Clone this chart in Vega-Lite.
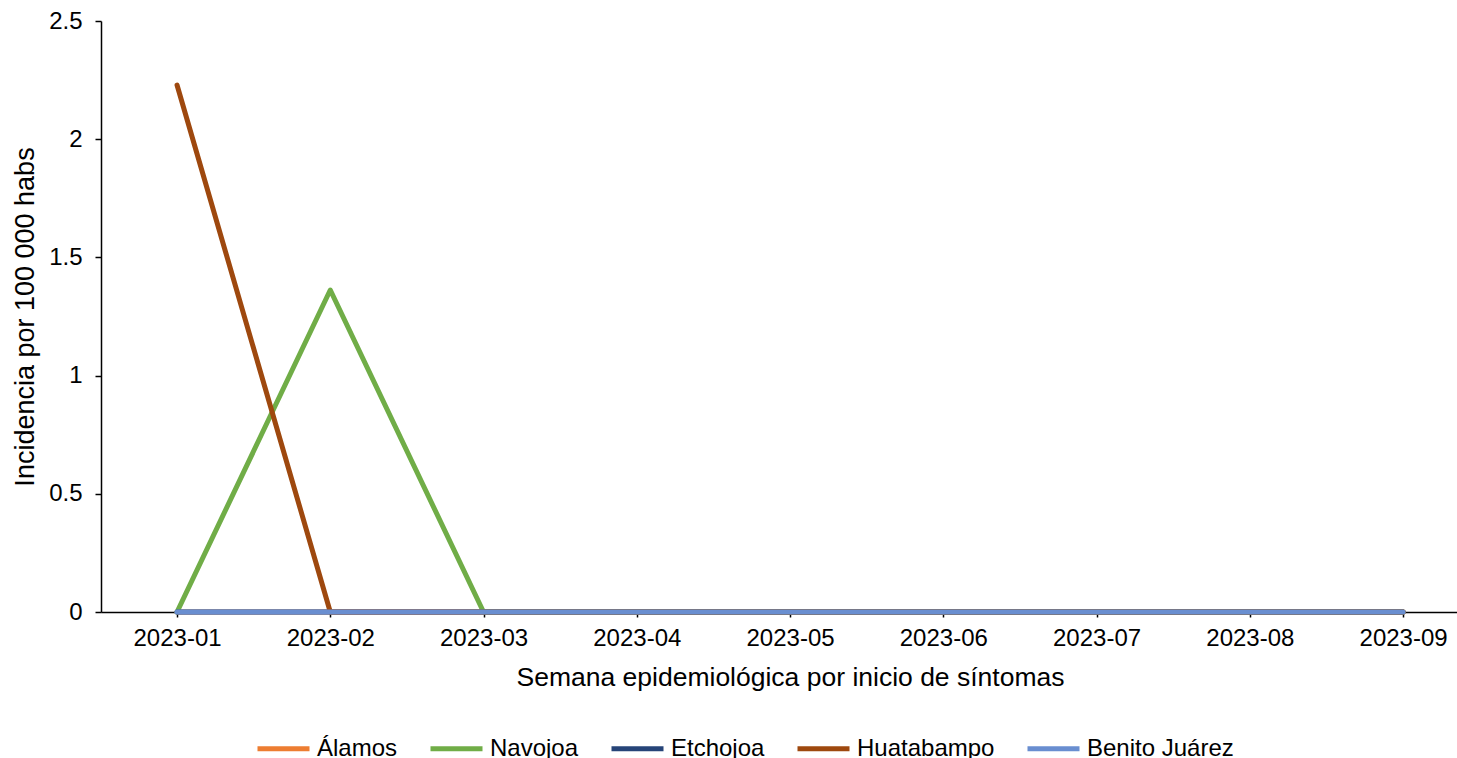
{
  "$schema": "https://vega.github.io/schema/vega-lite/v6.json",
  "width": 1356,
  "height": 591,
  "autosize": {"type": "none"},
  "padding": {"left": 101, "top": 21, "right": 0, "bottom": 146},
  "background": "white",
  "config": {
    "view": {"stroke": null},
    "font": "Liberation Sans",
    "axis": {"grid": false, "domainColor": "#000000", "tickColor": "#000000", "labelColor": "#000000", "titleColor": "#000000", "domainWidth": 1.5, "tickWidth": 1.5, "labelFont": "Liberation Sans", "titleFont": "Liberation Sans", "titleFontWeight": "normal"}
  },
  "data": {
    "values": [
      {"semana": "2023-01", "municipio": "Álamos", "incidencia": 0},
      {"semana": "2023-02", "municipio": "Álamos", "incidencia": 0},
      {"semana": "2023-03", "municipio": "Álamos", "incidencia": 0},
      {"semana": "2023-04", "municipio": "Álamos", "incidencia": 0},
      {"semana": "2023-05", "municipio": "Álamos", "incidencia": 0},
      {"semana": "2023-06", "municipio": "Álamos", "incidencia": 0},
      {"semana": "2023-07", "municipio": "Álamos", "incidencia": 0},
      {"semana": "2023-08", "municipio": "Álamos", "incidencia": 0},
      {"semana": "2023-09", "municipio": "Álamos", "incidencia": 0},
      {"semana": "2023-01", "municipio": "Navojoa", "incidencia": 0},
      {"semana": "2023-02", "municipio": "Navojoa", "incidencia": 1.362},
      {"semana": "2023-03", "municipio": "Navojoa", "incidencia": 0},
      {"semana": "2023-04", "municipio": "Navojoa", "incidencia": 0},
      {"semana": "2023-05", "municipio": "Navojoa", "incidencia": 0},
      {"semana": "2023-06", "municipio": "Navojoa", "incidencia": 0},
      {"semana": "2023-07", "municipio": "Navojoa", "incidencia": 0},
      {"semana": "2023-08", "municipio": "Navojoa", "incidencia": 0},
      {"semana": "2023-09", "municipio": "Navojoa", "incidencia": 0},
      {"semana": "2023-01", "municipio": "Etchojoa", "incidencia": 0},
      {"semana": "2023-02", "municipio": "Etchojoa", "incidencia": 0},
      {"semana": "2023-03", "municipio": "Etchojoa", "incidencia": 0},
      {"semana": "2023-04", "municipio": "Etchojoa", "incidencia": 0},
      {"semana": "2023-05", "municipio": "Etchojoa", "incidencia": 0},
      {"semana": "2023-06", "municipio": "Etchojoa", "incidencia": 0},
      {"semana": "2023-07", "municipio": "Etchojoa", "incidencia": 0},
      {"semana": "2023-08", "municipio": "Etchojoa", "incidencia": 0},
      {"semana": "2023-09", "municipio": "Etchojoa", "incidencia": 0},
      {"semana": "2023-01", "municipio": "Huatabampo", "incidencia": 2.229},
      {"semana": "2023-02", "municipio": "Huatabampo", "incidencia": 0},
      {"semana": "2023-03", "municipio": "Huatabampo", "incidencia": 0},
      {"semana": "2023-04", "municipio": "Huatabampo", "incidencia": 0},
      {"semana": "2023-05", "municipio": "Huatabampo", "incidencia": 0},
      {"semana": "2023-06", "municipio": "Huatabampo", "incidencia": 0},
      {"semana": "2023-07", "municipio": "Huatabampo", "incidencia": 0},
      {"semana": "2023-08", "municipio": "Huatabampo", "incidencia": 0},
      {"semana": "2023-09", "municipio": "Huatabampo", "incidencia": 0},
      {"semana": "2023-01", "municipio": "Benito Juárez", "incidencia": 0},
      {"semana": "2023-02", "municipio": "Benito Juárez", "incidencia": 0},
      {"semana": "2023-03", "municipio": "Benito Juárez", "incidencia": 0},
      {"semana": "2023-04", "municipio": "Benito Juárez", "incidencia": 0},
      {"semana": "2023-05", "municipio": "Benito Juárez", "incidencia": 0},
      {"semana": "2023-06", "municipio": "Benito Juárez", "incidencia": 0},
      {"semana": "2023-07", "municipio": "Benito Juárez", "incidencia": 0},
      {"semana": "2023-08", "municipio": "Benito Juárez", "incidencia": 0},
      {"semana": "2023-09", "municipio": "Benito Juárez", "incidencia": 0}
    ]
  },
  "mark": {"type": "line", "strokeWidth": 5, "strokeCap": "round", "strokeJoin": "round"},
  "encoding": {
    "x": {
      "field": "semana",
      "type": "ordinal",
      "sort": null,
      "scale": {"type": "point", "padding": 0.424, "align": 0.585},
      "axis": {"title": "Semana epidemiológica por inicio de síntomas", "labelAngle": 0, "labelFontSize": 24, "titleFontSize": 26.5, "tickSize": 5, "labelPadding": 9, "titlePadding": 14, "titleX": 689}
    },
    "y": {
      "field": "incidencia",
      "type": "quantitative",
      "scale": {"domain": [0, 2.5], "nice": false},
      "axis": {"title": "Incidencia por 100 000 habs", "values": [0, 0.5, 1, 1.5, 2, 2.5], "format": "~g", "labelFontSize": 24, "titleFontSize": 27, "tickSize": 6, "labelPadding": 13, "titlePadding": 9}
    },
    "color": {
      "field": "municipio",
      "type": "nominal",
      "sort": ["Álamos", "Navojoa", "Etchojoa", "Huatabampo", "Benito Juárez"],
      "scale": {"domain": ["Álamos", "Navojoa", "Etchojoa", "Huatabampo", "Benito Juárez"], "range": ["#ED7D31", "#70AD47", "#264478", "#9E480E", "#698ED0"]},
      "legend": {"title": null, "orient": "none", "direction": "horizontal", "legendX": 154, "legendY": 699, "symbolType": "stroke", "symbolSize": 2704, "symbolStrokeWidth": 5, "labelFontSize": 24, "labelFont": "Liberation Sans", "labelColor": "#000000", "labelOffset": 5, "columnPadding": 22}
    }
  }
}
